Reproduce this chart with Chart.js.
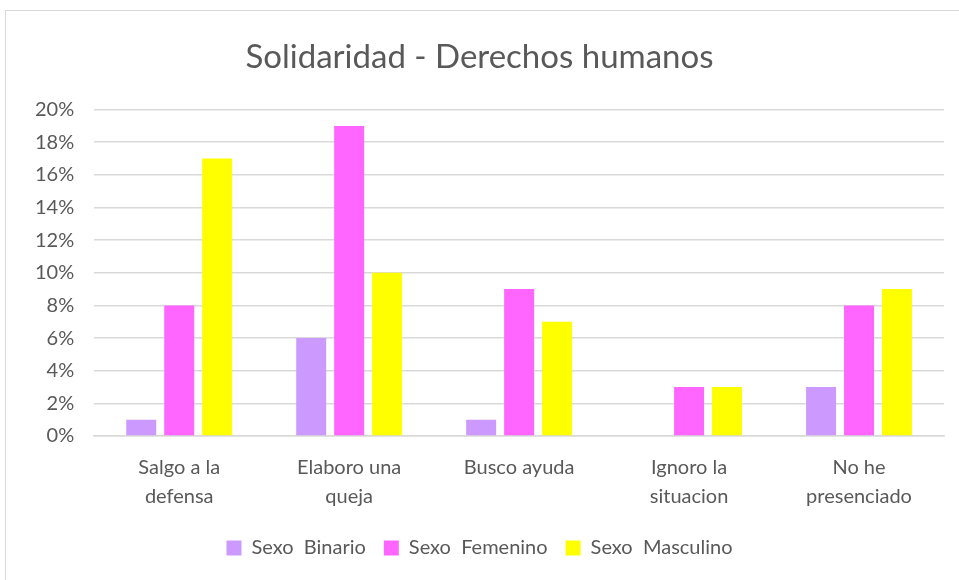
<!DOCTYPE html>
<html>
<head>
<meta charset="utf-8">
<script src="https://cdn.jsdelivr.net/npm/chart.js@4/dist/chart.umd.min.js"></script>
<style>
  body { margin: 0; background: #fff; }
  #frame { position: absolute; left: 5px; top: 10px; width: 970px; height: 580px; border: 1px solid #d9d9d9; box-sizing: border-box; }
  #wrap { position: absolute; left: 0; top: 0; width: 959px; height: 580px; }
</style>
</head>
<body>
<div id="frame"></div>
<div id="wrap"><canvas id="chart"></canvas></div>
<script>
const categories = [
    ['Salgo a la', 'defensa'],
    ['Elaboro una', 'queja'],
    ['Busco ayuda'],
    ['Ignoro la', 'situacion'],
    ['No he', 'presenciado']
];
const binario = [1, 6, 1, 0, 3];
const femenino = [8, 19, 9, 3, 8];
const masculino = [17, 10, 7, 3, 9];
const yTicks = [0, 2, 4, 6, 8, 10, 12, 14, 16, 18, 20];

const textColor = '#595959';
const fontFamily = 'Lato, "Open Sans", sans-serif';

const ctx = document.getElementById('chart').getContext('2d');

new Chart(ctx, {
    type: 'bar',
    data: {
        labels: categories,
        datasets: [
            { label: 'Sexo  Binario', data: binario, backgroundColor: '#cc99ff' },
            { label: 'Sexo  Femenino', data: femenino, backgroundColor: '#ff66ff' },
            { label: 'Sexo  Masculino', data: masculino, backgroundColor: '#ffff00' }
        ]
    },
    options: {
        responsive: true,
        maintainAspectRatio: false,
        animation: false,
        datasets: {
            bar: { categoryPercentage: 0.67, barPercentage: 0.79 }
        },
        layout: { padding: { left: 15, right: 15, top: 10, bottom: 12 } },
        plugins: {
            title: {
                display: true,
                text: 'Solidaridad - Derechos humanos',
                color: textColor,
                font: { family: fontFamily, size: 33, weight: 'normal' },
                padding: { top: 28, bottom: 32 }
            },
            legend: {
                position: 'bottom',
                labels: {
                    color: textColor,
                    font: { family: fontFamily, size: 20 },
                    boxWidth: 15,
                    boxHeight: 15,
                    padding: 18
                }
            },
            tooltip: { enabled: false }
        },
        scales: {
            x: {
                grid: { display: false },
                border: { color: '#d9d9d9', width: 1.5 },
                ticks: {
                    color: textColor,
                    font: { family: fontFamily, size: 20, lineHeight: 1.45 },
                    padding: 9,
                    maxRotation: 0
                }
            },
            y: {
                min: 0,
                max: 20,
                afterBuildTicks: axis => { axis.ticks = yTicks.map(v => ({ value: v })); },
                grid: { color: '#d9d9d9', lineWidth: 1.5, drawTicks: false },
                border: { display: false },
                ticks: {
                    color: textColor,
                    font: { family: fontFamily, size: 20 },
                    padding: 20,
                    callback: v => v + '%'
                }
            }
        }
    }
});
</script>
</body>
</html>
